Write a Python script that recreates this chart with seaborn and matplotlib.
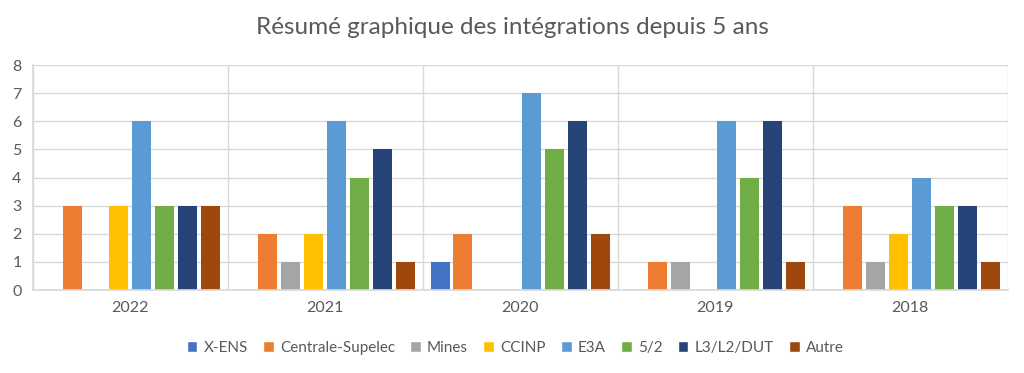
import matplotlib
matplotlib.use("Agg")
import matplotlib.pyplot as plt
import seaborn as sns
import pandas as pd
from matplotlib.patches import Patch

years = ["2022", "2021", "2020", "2019", "2018"]
series = ["X-ENS", "Centrale-Supelec", "Mines", "CCINP", "E3A", "5/2", "L3/L2/DUT", "Autre"]
x_ens = [0, 0, 1, 0, 0]
centrale = [3, 2, 2, 1, 3]
mines = [0, 1, 0, 1, 1]
ccinp = [3, 2, 0, 0, 2]
e3a = [6, 6, 7, 6, 4]
cinq_demi = [3, 4, 5, 4, 3]
l3 = [3, 5, 6, 6, 3]
autre = [3, 1, 2, 1, 1]
colors = ["#4472C4", "#ED7D31", "#A5A5A5", "#FFC000", "#5B9BD5", "#70AD47", "#264478", "#9E480E"]

values = [x_ens, centrale, mines, ccinp, e3a, cinq_demi, l3, autre]
rows = []
for s, vals in zip(series, values):
    for y, v in zip(years, vals):
        rows.append({"Année": y, "Filière": s, "Nombre": v})
df = pd.DataFrame(rows)

sns.set_theme(style="white")
plt.rcParams['font.family'] = ['Lato', 'DejaVu Sans']

fig = plt.figure(figsize=(10.24, 3.73), dpi=100)
ax = fig.add_axes([0.032, 0.2225, 0.952, 0.603])
sns.barplot(data=df, x="Année", y="Nombre", hue="Filière", order=years,
            hue_order=series, palette=colors, width=0.94, gap=0.17,
            ax=ax, legend=False, errorbar=None, saturation=1, linewidth=0)

ax.set_ylim(0, 8)
ax.set_xlim(-0.5, 4.5)
ax.set_yticks(range(0, 9))
ax.set_xlabel("")
ax.set_ylabel("")
ax.set_axisbelow(True)
ax.yaxis.grid(True, color="#D9D9D9", linewidth=1)
ax.set_xticks([i + 0.5 for i in range(-1, 5)], minor=True)
ax.xaxis.grid(True, which="minor", color="#D9D9D9", linewidth=1)
ax.tick_params(axis="both", which="both", length=0, colors="#595959", labelsize=11.5)
ax.tick_params(axis="x", pad=8)
ax.tick_params(axis="y", pad=8)
for sp in ["top", "right"]:
    ax.spines[sp].set_visible(False)
ax.spines["left"].set_color("#D9D9D9")
ax.spines["bottom"].set_color("#D9D9D9")

fig.suptitle("Résumé graphique des intégrations depuis 5 ans", x=0.5, y=0.955,
             fontsize=17.5, color="#595959")

handles = [Patch(facecolor=c, label=s) for c, s in zip(colors, series)]
fig.legend(handles=handles, loc="center", bbox_to_anchor=(0.503, 0.067), ncol=8,
           frameon=False, fontsize=11, labelcolor="#595959", handlelength=0.7,
           handleheight=0.7, handletextpad=0.4, columnspacing=1.0)

fig.savefig("out.png", dpi=100)
